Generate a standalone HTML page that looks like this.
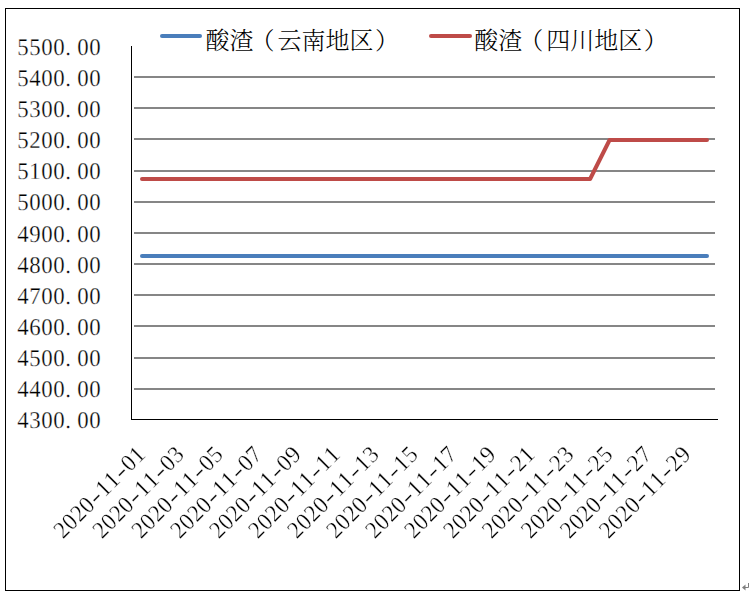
<!DOCTYPE html>
<html lang="zh-CN"><head><meta charset="utf-8"><title>酸渣价格走势</title>
<style>
html,body{margin:0;padding:0;background:#fff;}
body{width:750px;height:599px;overflow:hidden;}
svg{display:block;}
text{font-family:"Liberation Serif","Noto Serif CJK SC",serif;fill:#000;}
.num{font-size:24px;text-rendering:geometricPrecision;stroke:#fff;stroke-width:0.3px;}
.leg{font-size:24px;font-weight:300;}
</style></head><body>
<svg width="750" height="599" viewBox="0 0 750 599">
<rect x="0" y="0" width="750" height="599" fill="#fff"/>
<rect x="5.5" y="8.5" width="734" height="582" fill="none" stroke="#000" stroke-width="1"/>
<g stroke="#868686" stroke-width="2" fill="none">
<line x1="134" y1="77" x2="715" y2="77"/>
<line x1="134" y1="108" x2="715" y2="108"/>
<line x1="134" y1="139" x2="715" y2="139"/>
<line x1="134" y1="171" x2="715" y2="171"/>
<line x1="134" y1="202" x2="715" y2="202"/>
<line x1="134" y1="233" x2="715" y2="233"/>
<line x1="134" y1="264" x2="715" y2="264"/>
<line x1="134" y1="295" x2="715" y2="295"/>
<line x1="134" y1="326" x2="715" y2="326"/>
<line x1="134" y1="358" x2="715" y2="358"/>
<line x1="134" y1="389" x2="715" y2="389"/>
</g>
<g stroke="#000" stroke-width="1" fill="none">
<line x1="131.5" y1="46" x2="131.5" y2="420"/>
<line x1="131" y1="419.5" x2="718" y2="419.5"/>
</g>
<polyline points="142.00,256 161.48,256 180.97,256 200.45,256 219.93,256 239.41,256 258.90,256 278.38,256 297.86,256 317.34,256 336.83,256 356.31,256 375.79,256 395.28,256 414.76,256 434.24,256 453.72,256 473.21,256 492.69,256 512.17,256 531.66,256 551.14,256 570.62,256 590.10,256 609.59,256 629.07,256 648.55,256 668.03,256 687.52,256 707.00,256" fill="none" stroke="#4A7EBB" stroke-width="4" stroke-linecap="round" stroke-linejoin="round"/>
<polyline points="142.00,179 161.48,179 180.97,179 200.45,179 219.93,179 239.41,179 258.90,179 278.38,179 297.86,179 317.34,179 336.83,179 356.31,179 375.79,179 395.28,179 414.76,179 434.24,179 453.72,179 473.21,179 492.69,179 512.17,179 531.66,179 551.14,179 570.62,179 590.10,179 609.59,140 629.07,140 648.55,140 668.03,140 687.52,140 707.00,140" fill="none" stroke="#BE4B48" stroke-width="4" stroke-linecap="round" stroke-linejoin="round"/>
<line x1="162" y1="36" x2="200" y2="36" stroke="#4A7EBB" stroke-width="4" stroke-linecap="round"/>
<text class="leg" x="205.4 229.4 250.4 277.4 301.4 325.4 349.4 374.9" y="48.8">酸渣（云南地区）</text>
<line x1="431" y1="36" x2="470" y2="36" stroke="#BE4B48" stroke-width="4" stroke-linecap="round"/>
<text class="leg" x="474.2 498.2 519.2 546.2 570.2 594.2 618.2 643.7" y="48.8">酸渣（四川地区）</text>
<text class="num" transform="translate(17.20 54.90) scale(0.95 1)" x="0.00 12.63 25.26 37.89 50.53 63.16 75.79" y="0">5500.00</text>
<text class="num" transform="translate(17.20 85.90) scale(0.95 1)" x="0.00 12.63 25.26 37.89 50.53 63.16 75.79" y="0">5400.00</text>
<text class="num" transform="translate(17.20 116.90) scale(0.95 1)" x="0.00 12.63 25.26 37.89 50.53 63.16 75.79" y="0">5300.00</text>
<text class="num" transform="translate(17.20 147.90) scale(0.95 1)" x="0.00 12.63 25.26 37.89 50.53 63.16 75.79" y="0">5200.00</text>
<text class="num" transform="translate(17.20 178.90) scale(0.95 1)" x="0.00 12.63 25.26 37.89 50.53 63.16 75.79" y="0">5100.00</text>
<text class="num" transform="translate(17.20 209.90) scale(0.95 1)" x="0.00 12.63 25.26 37.89 50.53 63.16 75.79" y="0">5000.00</text>
<text class="num" transform="translate(17.20 241.90) scale(0.95 1)" x="0.00 12.63 25.26 37.89 50.53 63.16 75.79" y="0">4900.00</text>
<text class="num" transform="translate(17.20 272.90) scale(0.95 1)" x="0.00 12.63 25.26 37.89 50.53 63.16 75.79" y="0">4800.00</text>
<text class="num" transform="translate(17.20 303.90) scale(0.95 1)" x="0.00 12.63 25.26 37.89 50.53 63.16 75.79" y="0">4700.00</text>
<text class="num" transform="translate(17.20 334.90) scale(0.95 1)" x="0.00 12.63 25.26 37.89 50.53 63.16 75.79" y="0">4600.00</text>
<text class="num" transform="translate(17.20 365.90) scale(0.95 1)" x="0.00 12.63 25.26 37.89 50.53 63.16 75.79" y="0">4500.00</text>
<text class="num" transform="translate(17.20 396.90) scale(0.95 1)" x="0.00 12.63 25.26 37.89 50.53 63.16 75.79" y="0">4400.00</text>
<text class="num" transform="translate(17.20 427.90) scale(0.95 1)" x="0.00 12.63 25.26 37.89 50.53 63.16 75.79" y="0">4300.00</text>
<defs><filter id="gray" x="0" y="0" width="100%" height="100%" filterUnits="userSpaceOnUse" color-interpolation-filters="sRGB"><feColorMatrix type="saturate" values="0"/></filter></defs>
<g filter="url(#gray)">
<text class="num" transform="translate(146.60 455.90) rotate(-45) scale(0.95 1)" x="-124.50 -112.03 -99.55 -87.08 -74.18 -62.13 -49.66 -36.76 -24.71 -12.24" y="0">2020<tspan textLength="11.16" lengthAdjust="spacingAndGlyphs">-</tspan>11<tspan textLength="11.16" lengthAdjust="spacingAndGlyphs">-</tspan>01</text>
<text class="num" transform="translate(185.57 455.90) rotate(-45) scale(0.95 1)" x="-124.50 -112.03 -99.55 -87.08 -74.18 -62.13 -49.66 -36.76 -24.71 -12.24" y="0">2020<tspan textLength="11.16" lengthAdjust="spacingAndGlyphs">-</tspan>11<tspan textLength="11.16" lengthAdjust="spacingAndGlyphs">-</tspan>03</text>
<text class="num" transform="translate(224.53 455.90) rotate(-45) scale(0.95 1)" x="-124.50 -112.03 -99.55 -87.08 -74.18 -62.13 -49.66 -36.76 -24.71 -12.24" y="0">2020<tspan textLength="11.16" lengthAdjust="spacingAndGlyphs">-</tspan>11<tspan textLength="11.16" lengthAdjust="spacingAndGlyphs">-</tspan>05</text>
<text class="num" transform="translate(263.50 455.90) rotate(-45) scale(0.95 1)" x="-124.50 -112.03 -99.55 -87.08 -74.18 -62.13 -49.66 -36.76 -24.71 -12.24" y="0">2020<tspan textLength="11.16" lengthAdjust="spacingAndGlyphs">-</tspan>11<tspan textLength="11.16" lengthAdjust="spacingAndGlyphs">-</tspan>07</text>
<text class="num" transform="translate(302.46 455.90) rotate(-45) scale(0.95 1)" x="-124.50 -112.03 -99.55 -87.08 -74.18 -62.13 -49.66 -36.76 -24.71 -12.24" y="0">2020<tspan textLength="11.16" lengthAdjust="spacingAndGlyphs">-</tspan>11<tspan textLength="11.16" lengthAdjust="spacingAndGlyphs">-</tspan>09</text>
<text class="num" transform="translate(341.43 455.90) rotate(-45) scale(0.95 1)" x="-124.50 -112.03 -99.55 -87.08 -74.18 -62.13 -49.66 -36.76 -24.71 -12.24" y="0">2020<tspan textLength="11.16" lengthAdjust="spacingAndGlyphs">-</tspan>11<tspan textLength="11.16" lengthAdjust="spacingAndGlyphs">-</tspan>11</text>
<text class="num" transform="translate(380.39 455.90) rotate(-45) scale(0.95 1)" x="-124.50 -112.03 -99.55 -87.08 -74.18 -62.13 -49.66 -36.76 -24.71 -12.24" y="0">2020<tspan textLength="11.16" lengthAdjust="spacingAndGlyphs">-</tspan>11<tspan textLength="11.16" lengthAdjust="spacingAndGlyphs">-</tspan>13</text>
<text class="num" transform="translate(419.36 455.90) rotate(-45) scale(0.95 1)" x="-124.50 -112.03 -99.55 -87.08 -74.18 -62.13 -49.66 -36.76 -24.71 -12.24" y="0">2020<tspan textLength="11.16" lengthAdjust="spacingAndGlyphs">-</tspan>11<tspan textLength="11.16" lengthAdjust="spacingAndGlyphs">-</tspan>15</text>
<text class="num" transform="translate(458.32 455.90) rotate(-45) scale(0.95 1)" x="-124.50 -112.03 -99.55 -87.08 -74.18 -62.13 -49.66 -36.76 -24.71 -12.24" y="0">2020<tspan textLength="11.16" lengthAdjust="spacingAndGlyphs">-</tspan>11<tspan textLength="11.16" lengthAdjust="spacingAndGlyphs">-</tspan>17</text>
<text class="num" transform="translate(497.29 455.90) rotate(-45) scale(0.95 1)" x="-124.50 -112.03 -99.55 -87.08 -74.18 -62.13 -49.66 -36.76 -24.71 -12.24" y="0">2020<tspan textLength="11.16" lengthAdjust="spacingAndGlyphs">-</tspan>11<tspan textLength="11.16" lengthAdjust="spacingAndGlyphs">-</tspan>19</text>
<text class="num" transform="translate(536.26 455.90) rotate(-45) scale(0.95 1)" x="-124.50 -112.03 -99.55 -87.08 -74.18 -62.13 -49.66 -36.76 -24.71 -12.24" y="0">2020<tspan textLength="11.16" lengthAdjust="spacingAndGlyphs">-</tspan>11<tspan textLength="11.16" lengthAdjust="spacingAndGlyphs">-</tspan>21</text>
<text class="num" transform="translate(575.22 455.90) rotate(-45) scale(0.95 1)" x="-124.50 -112.03 -99.55 -87.08 -74.18 -62.13 -49.66 -36.76 -24.71 -12.24" y="0">2020<tspan textLength="11.16" lengthAdjust="spacingAndGlyphs">-</tspan>11<tspan textLength="11.16" lengthAdjust="spacingAndGlyphs">-</tspan>23</text>
<text class="num" transform="translate(614.19 455.90) rotate(-45) scale(0.95 1)" x="-124.50 -112.03 -99.55 -87.08 -74.18 -62.13 -49.66 -36.76 -24.71 -12.24" y="0">2020<tspan textLength="11.16" lengthAdjust="spacingAndGlyphs">-</tspan>11<tspan textLength="11.16" lengthAdjust="spacingAndGlyphs">-</tspan>25</text>
<text class="num" transform="translate(653.15 455.90) rotate(-45) scale(0.95 1)" x="-124.50 -112.03 -99.55 -87.08 -74.18 -62.13 -49.66 -36.76 -24.71 -12.24" y="0">2020<tspan textLength="11.16" lengthAdjust="spacingAndGlyphs">-</tspan>11<tspan textLength="11.16" lengthAdjust="spacingAndGlyphs">-</tspan>27</text>
<text class="num" transform="translate(692.12 455.90) rotate(-45) scale(0.95 1)" x="-124.50 -112.03 -99.55 -87.08 -74.18 -62.13 -49.66 -36.76 -24.71 -12.24" y="0">2020<tspan textLength="11.16" lengthAdjust="spacingAndGlyphs">-</tspan>11<tspan textLength="11.16" lengthAdjust="spacingAndGlyphs">-</tspan>29</text>
</g>
<path d="M748.5 583v4.5h-5" stroke="#7f7f7f" stroke-width="1" fill="none"/>
<path d="M742 587.5l3.5-3v6z" fill="#7f7f7f"/>
</svg></body></html>
